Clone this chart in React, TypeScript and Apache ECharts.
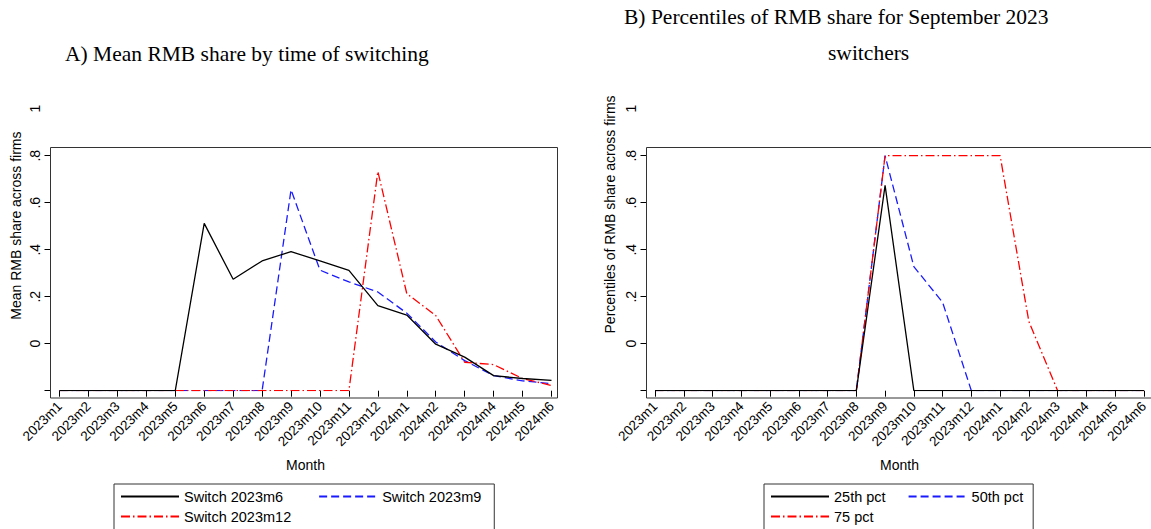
import React, { useEffect, useRef } from "react";
import * as echarts from "echarts";

const months = [
  "2023m1", "2023m2", "2023m3", "2023m4", "2023m5", "2023m6", "2023m7", "2023m8", "2023m9",
  "2023m10", "2023m11", "2023m12", "2024m1", "2024m2", "2024m3", "2024m4", "2024m5", "2024m6",
];

// Panel A: mean RMB share by time of switching
const switch2023m6 = [0, 0, 0, 0, 0, 0.712, 0.474, 0.552, 0.592, 0.552, 0.512, 0.362, 0.322, 0.198, 0.143, 0.064, 0.052, 0.044];
const switch2023m9 = [0, 0, 0, 0, 0, 0, 0, 0, 0.855, 0.513, 0.463, 0.42, 0.33, 0.207, 0.128, 0.064, 0.042, 0.03];
const switch2023m12 = [0, 0, 0, 0, 0, 0, 0, 0, 0, 0, 0, 0.933, 0.413, 0.32, 0.121, 0.111, 0.052, 0.022];

// Panel B: percentiles for September 2023 switchers
const pct25 = [0, 0, 0, 0, 0, 0, 0, 0, 0.874, 0, 0, 0, 0, 0, 0, 0, 0, 0];
const pct50 = [0, 0, 0, 0, 0, 0, 0, 0, 1.0, 0.528, 0.376, 0, 0, 0, 0, 0, 0, 0];
const pct75 = [0, 0, 0, 0, 0, 0, 0, 0, 1.0, 1.0, 1.0, 1.0, 1.0, 0.294, 0, 0, 0, 0];

// Y axis: ticks at the data positions, labels as printed in the source figure
const yTickValues = [0, 0.2, 0.4, 0.6, 0.8, 1.0];
const yLabelValues = [0.2, 0.4, 0.6, 0.8, 1.0, 1.2];
const yTickLabels = ["0", ".2", ".4", ".6", ".8", "1"];

const SANS = "'Liberation Sans', Arial, Helvetica, sans-serif";
const SERIF = "'Liberation Serif', 'Times New Roman', serif";

const BLACK = "#000000";
const BLUE = "#1a1aff";
const RED = "#ff0000";

function yLabel(v: number): string {
  const idx = Math.round(v / 0.2) - 1;
  return yTickLabels[idx] ?? "";
}

export default function App() {
  const ref = useRef<HTMLDivElement>(null);

  useEffect(() => {
    if (!ref.current) return;
    const chart = echarts.init(ref.current, undefined, { renderer: "svg" });

    const zeroY = 390.7;
    const unit = 235;
    const gridBottom = 529 - zeroY;
    const maxA = 1.405;
    const maxB = 1.5;

    const xAxisBase = (gridIndex: number) => ({
      type: "category" as const,
      gridIndex,
      data: months,
      boundaryGap: false,
      offset: 7.3,
      axisLine: { show: false },
      axisTick: { show: true, length: 6, lineStyle: { color: BLACK, width: 1 } },
      axisLabel: {
        interval: 0,
        rotate: 45,
        margin: 6,
        fontSize: 13.5,
        color: BLACK,
        fontFamily: SANS,
      },
      splitLine: { show: false },
      name: "Month",
      nameLocation: "middle" as const,
      nameGap: 60,
      nameTextStyle: { fontSize: 14, color: BLACK, fontFamily: SANS },
    });

    const yAxisBase = (gridIndex: number, max: number, name: string) => ({
      type: "value" as const,
      gridIndex,
      min: 0,
      max,
      offset: gridIndex === 0 ? 9 : 8.5,
      splitLine: { show: false },
      axisLine: { show: false },
      axisTick: {
        show: true,
        length: 6,
        customValues: yTickValues,
        lineStyle: { color: BLACK, width: 1 },
      },
      axisLabel: {
        show: true,
        customValues: yLabelValues,
        formatter: (v: number) => yLabel(v),
        rotate: 90,
        margin: 9,
        fontSize: 14,
        color: BLACK,
        fontFamily: SANS,
      },
      name,
      nameLocation: "middle" as const,
      nameGap: gridIndex === 0 ? 28 : 30,
      nameTextStyle: { fontSize: 14, color: BLACK, fontFamily: SANS },
    });

    const lineSeries = (
      name: string,
      data: number[],
      color: string,
      type: any,
      idx: number
    ) => ({
      type: "line" as const,
      name,
      data,
      xAxisIndex: idx,
      yAxisIndex: idx,
      symbol: "none",
      showSymbol: false,
      lineStyle: { color, width: 1.3, type },
      itemStyle: { color },
      z: color === BLACK ? 3 : 2,
    });

    const legendText = { fontSize: 14.5, color: BLACK, fontFamily: SANS };
    const legendCommon = {
      itemWidth: 58,
      itemHeight: 14,
      textStyle: legendText,
      selectedMode: false,
      itemStyle: { opacity: 0 },
    };

    chart.setOption({
      animation: false,
      backgroundColor: "#ffffff",
      title: [
        {
          text: "A) Mean RMB share by time of switching",
          left: 65,
          top: 43,
          padding: 0,
          textStyle: { fontFamily: SERIF, fontSize: 21.5, fontWeight: "normal", color: BLACK },
        },
        {
          text: "B) Percentiles of RMB share for September 2023",
          left: 624,
          top: 6,
          padding: 0,
          textStyle: { fontFamily: SERIF, fontSize: 21.5, fontWeight: "normal", color: BLACK },
        },
        {
          text: "switchers",
          left: 828,
          top: 42,
          padding: 0,
          textStyle: { fontFamily: SERIF, fontSize: 21.5, fontWeight: "normal", color: BLACK },
        },
      ],
      grid: [
        { left: 59.5, right: 1151 - 551.5, top: zeroY - maxA * unit, bottom: gridBottom, containLabel: false },
        { left: 655, right: 1151 - 1146, top: zeroY - maxB * unit, bottom: gridBottom, containLabel: false },
      ],
      xAxis: [xAxisBase(0), xAxisBase(1)],
      yAxis: [
        yAxisBase(0, maxA, "Mean RMB share across firms"),
        yAxisBase(1, maxB, "Percentiles of RMB share across firms"),
      ],
      legend: [
        {
          ...legendCommon,
          data: ["Switch 2023m6", "Switch 2023m9"],
          left: 114,
          top: 484,
          orient: "horizontal",
          padding: [5, 13, 40, 6],
          itemGap: 35,
          borderColor: "#333",
          borderWidth: 1,
        },
        {
          ...legendCommon,
          data: ["Switch 2023m12"],
          left: 120,
          top: 509,
          padding: 0,
        },
        {
          ...legendCommon,
          data: ["25th pct", "50th pct"],
          left: 764,
          top: 484,
          orient: "horizontal",
          padding: [5, 10, 40, 6],
          itemGap: 22,
          borderColor: "#333",
          borderWidth: 1,
        },
        {
          ...legendCommon,
          data: ["75 pct"],
          left: 770,
          top: 509,
          padding: 0,
        },
      ],
      graphic: [
        {
          type: "rect",
          shape: { x: 50.5, y: 147.5, width: 507, height: 250.5 },
          style: { fill: "none", stroke: "#333", lineWidth: 1 },
          silent: true,
          z: 10,
        },
        {
          type: "rect",
          shape: { x: 646.5, y: 147.5, width: 520, height: 250.5 },
          style: { fill: "none", stroke: "#333", lineWidth: 1 },
          silent: true,
          z: 10,
        },
      ],
      series: [
        lineSeries("Switch 2023m6", switch2023m6, BLACK, "solid", 0),
        lineSeries("Switch 2023m9", switch2023m9, BLUE, [8, 4], 0),
        lineSeries("Switch 2023m12", switch2023m12, RED, [9, 3, 1.5, 3], 0),
        lineSeries("25th pct", pct25, BLACK, "solid", 1),
        lineSeries("50th pct", pct50, BLUE, [8, 4], 1),
        lineSeries("75 pct", pct75, RED, [9, 3, 1.5, 3], 1),
      ],
    });

    return () => {
      chart.dispose();
    };
  }, []);

  return (
    <div
      ref={ref}
      style={{ position: "fixed", left: 0, top: 0, width: 1151, height: 529, background: "#fff" }}
    />
  );
}
